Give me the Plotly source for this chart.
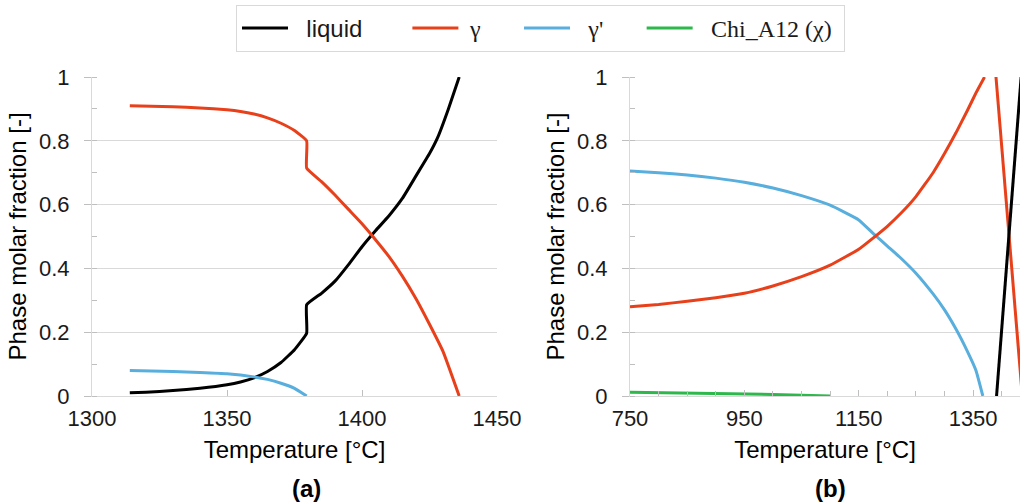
import plotly.graph_objects as go

# ---------------- Panel (a) data ----------------
a_liquid_T = [1314, 1320, 1330, 1340, 1350, 1355, 1360, 1365, 1370, 1375, 1379.5, 1379.5,
              1385, 1390, 1395, 1400, 1405, 1410, 1415, 1420, 1425, 1428, 1432, 1436]
a_liquid_f = [0.010, 0.012, 0.017, 0.024, 0.035, 0.044, 0.057, 0.077, 0.105, 0.145, 0.197, 0.286,
              0.322, 0.360, 0.412, 0.468, 0.518, 0.565, 0.620, 0.690, 0.760, 0.810, 0.900, 1.000]

a_gamma_T = [1314, 1330, 1340, 1350, 1355, 1360, 1365, 1370, 1375, 1379.5, 1379.5,
             1385, 1390, 1395, 1400, 1405, 1410, 1415, 1420, 1425, 1430, 1436]
a_gamma_f = [0.910, 0.907, 0.903, 0.897, 0.892, 0.884, 0.872, 0.855, 0.832, 0.800, 0.714,
             0.672, 0.630, 0.585, 0.540, 0.490, 0.437, 0.375, 0.305, 0.225, 0.140, 0.000]

a_gprime_T = [1314, 1330, 1340, 1350, 1360, 1365, 1370, 1375, 1379.5]
a_gprime_f = [0.080, 0.077, 0.074, 0.070, 0.060, 0.052, 0.040, 0.024, 0.000]

# ---------------- Panel (b) data ----------------
b_gprime_T = [750, 800, 850, 900, 950, 1000, 1050, 1100, 1150, 1175, 1200, 1222, 1250,
              1280, 1300, 1320, 1340, 1355, 1367]
b_gprime_f = [0.705, 0.700, 0.693, 0.683, 0.670, 0.652, 0.628, 0.598, 0.552, 0.510, 0.470,
              0.435, 0.385, 0.320, 0.270, 0.210, 0.140, 0.080, 0.000]

b_gamma_T = [750, 800, 850, 900, 950, 1000, 1050, 1100, 1150, 1175, 1200, 1225, 1250,
             1280, 1300, 1320, 1340, 1355, 1370, None, 1390, 1436]
b_gamma_f = [0.280, 0.287, 0.297, 0.308, 0.322, 0.345, 0.374, 0.410, 0.460, 0.495, 0.532,
             0.575, 0.625, 0.700, 0.760, 0.825, 0.895, 0.950, 1.000, None, 1.000, 0.000]

b_liquid_T = [1391, 1434]
b_liquid_f = [0.000, 1.000]

b_chi_T = [750, 900, 1000, 1100]
b_chi_f = [0.012, 0.008, 0.005, 0.000]

# ---------------- Labels ----------------
NB = "\u00a0"
SERIF = '<span style="font-family:Liberation Serif, Times New Roman">'
series_names = [NB * 2 + "liquid" + NB * 6,
                NB * 1 + SERIF + "γ</span>" + NB * 5,
                NB * 2 + SERIF + "γ'</span>" + NB * 5,
                NB * 2 + SERIF + "Chi_A12 (χ)</span>" + NB]
x_title = "Temperature [°C]"
y_title = "Phase molar fraction [-]"
panel_labels = ["(a)", "(b)"]

C_LIQ = "#000000"
C_GAM = "#E8401A"
C_GPR = "#58AEDD"
C_CHI = "#2DB84B"
LW = 3
SM = 0.35

fig = go.Figure()
fig.add_trace(go.Scatter(x=a_liquid_T, y=a_liquid_f, mode="lines", name=series_names[0],
                         line=dict(color=C_LIQ, width=LW, shape="spline", smoothing=SM),
                         xaxis="x", yaxis="y", legendrank=1))
fig.add_trace(go.Scatter(x=a_gamma_T, y=a_gamma_f, mode="lines", name=series_names[1],
                         line=dict(color=C_GAM, width=LW, shape="spline", smoothing=SM),
                         xaxis="x", yaxis="y", legendrank=2))
fig.add_trace(go.Scatter(x=a_gprime_T, y=a_gprime_f, mode="lines", name=series_names[2],
                         line=dict(color=C_GPR, width=LW, shape="spline", smoothing=SM),
                         xaxis="x", yaxis="y", legendrank=3))

fig.add_trace(go.Scatter(x=b_gprime_T, y=b_gprime_f, mode="lines", showlegend=False,
                         line=dict(color=C_GPR, width=LW, shape="spline", smoothing=SM),
                         xaxis="x2", yaxis="y2"))
fig.add_trace(go.Scatter(x=b_gamma_T, y=b_gamma_f, mode="lines", showlegend=False, connectgaps=False,
                         line=dict(color=C_GAM, width=LW, shape="spline", smoothing=SM),
                         xaxis="x2", yaxis="y2"))
fig.add_trace(go.Scatter(x=b_liquid_T, y=b_liquid_f, mode="lines", showlegend=False,
                         line=dict(color=C_LIQ, width=LW), xaxis="x2", yaxis="y2"))
fig.add_trace(go.Scatter(x=b_chi_T, y=b_chi_f, mode="lines", name=series_names[3],
                         line=dict(color=C_CHI, width=LW), xaxis="x2", yaxis="y2", legendrank=4))

W, H = 1020, 502

def px(x):
    return x / W

def py(y):
    return (H - y) / H

ydom = [py(396), py(77)]
xdom_a = [px(92), px(497)]
xdom_b = [px(630), 1.0]

GRID = "#d9d9d9"
TICK = "#bfbfbf"
tickfont = dict(family="Liberation Sans, Arial", size=22, color="#1a1a1a")
titlefont = dict(family="Liberation Sans, Arial", size=24, color="#000000")

def xax(domain, rng, tick0, dtick, anchor, minor=None):
    d = dict(domain=domain, range=rng, tick0=tick0, dtick=dtick, anchor=anchor,
             showline=True, linecolor=GRID, linewidth=1, showgrid=False, zeroline=False,
             ticks="inside", ticklen=6, tickcolor=TICK, tickwidth=1, automargin=False,
             tickfont=tickfont, ticklabelstandoff=3,
             title=dict(text=x_title, font=titlefont, standoff=10))
    if minor:
        d["minor"] = minor
    return d

def yax(anchor):
    return dict(domain=ydom, range=[0, 1], dtick=0.2, tick0=0, anchor=anchor,
                showline=True, linecolor=GRID, linewidth=1, showgrid=True, gridcolor=GRID,
                gridwidth=1, zeroline=False, ticks="outside", ticklen=7, tickcolor=TICK,
                tickfont=tickfont, ticklabelstandoff=10, automargin=False,
                minor=dict(ticks="inside", ticklen=5, dtick=0.1, tick0=0, tickcolor=TICK, showgrid=False),
                title=dict(text=y_title, font=titlefont, standoff=5))

def overlay(target, domain, rng, tick0, dtick, anchor):
    return dict(overlaying=target, matches=target, anchor=anchor, domain=domain, range=rng,
                tick0=tick0, dtick=dtick, ticks="outside", ticklen=6, tickcolor=TICK,
                showticklabels=False, showline=False, showgrid=False, zeroline=False)

fig.update_layout(
    width=W, height=H,
    margin=dict(l=0, r=0, t=0, b=0, autoexpand=False),
    paper_bgcolor="white", plot_bgcolor="white",
    xaxis=xax(xdom_a, [1300, 1450], 1300, 50, "y"),
    yaxis=yax("x"),
    xaxis2=xax(xdom_b, [750, 1432], 750, 200, "y2",
               minor=dict(ticks="inside", ticklen=5, dtick=50, tick0=750, tickcolor=TICK)),
    yaxis2=yax("x2"),
    xaxis3=overlay("x", xdom_a, [1300, 1450], 1300, 50, "y"),
    xaxis4=overlay("x2", xdom_b, [750, 1432], 750, 200, "y2"),
    legend=dict(orientation="h", x=px(236), xanchor="left", y=py(5), yanchor="top",
                bordercolor=GRID, borderwidth=1, bgcolor="white",
                font=dict(family="Liberation Sans, Arial", size=24, color="#1a1a1a"),
                itemwidth=46),
    showlegend=True,
)

for lbl, cx in zip(panel_labels, [306, 830]):
    fig.add_annotation(text="<b>" + lbl + "</b>", x=px(cx), y=py(488),
                       xref="paper", yref="paper", xanchor="center", yanchor="middle",
                       showarrow=False,
                       font=dict(family="Liberation Sans, Arial", size=24, color="#000000"))

# remove the default page margin so the 1020x502 figure fills the window exactly
fig.write_html("out.html", config={"displayModeBar": False},
               post_script="document.body.style.margin='0';document.body.style.overflow='hidden';")
